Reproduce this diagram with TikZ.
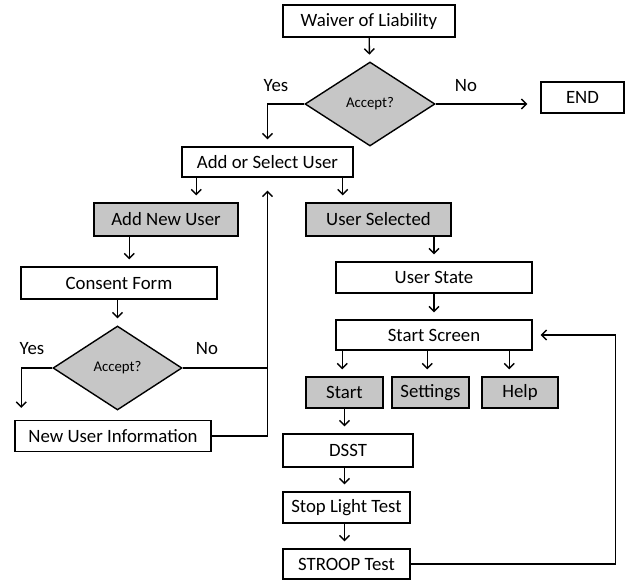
\documentclass[tikz,border=0pt]{standalone}
\usepackage{fontspec}
\setmainfont{Carlito}
\usetikzlibrary{shapes.geometric, arrows.meta}

\tikzset{
  box/.style={draw, line width=1.4pt, inner sep=0pt, font=\fontsize{18.8}{20}\selectfont},
  graybox/.style={box, fill=gray!45},
  decision/.style={diamond, draw, line width=1.4pt, fill=gray!45, inner sep=0pt,
    minimum width=130pt, minimum height=84pt, font=\fontsize{14.8}{16}\selectfont},
  lbl/.style={font=\fontsize{18.8}{20}\selectfont},
  line/.style={line width=1.4pt},
  arr/.style={line, -{Straight Barb[length=5pt, width=10pt, line width=1.4pt]}, shorten >=7pt},
}

\begin{document}
\begin{tikzpicture}[x=1pt, y=-1pt]
    \useasboundingbox (0,0) rectangle (625,581);

    % 1. top: waiver and first decision
    \node[box, minimum width=172pt, minimum height=32pt] (waiver) at (369,21) {Waiver of Liability};
    \node[decision] (acc1) at (370,104) {Accept?};
    \node[box, minimum width=83pt, minimum height=31pt] (endbox) at (582.5,97.5) {END};
    \node[lbl] (yes1) at (276,86) {Yes};
    \node[lbl] (no1) at (466,86) {No};

    % 2. add or select user
    \node[box, minimum width=171pt, minimum height=30pt] (addsel) at (267.5,162) {Add or Select User};
    \node[graybox, minimum width=144pt, minimum height=33pt] (addnew) at (166,219.5) {Add New User};
    \node[graybox, minimum width=145pt, minimum height=33pt] (usersel) at (378.5,219.5) {User Selected};

    % 3. left branch: new user
    \node[box, minimum width=196pt, minimum height=32pt] (consent) at (119,283) {Consent Form};
    \node[decision, minimum width=129pt] (acc2) at (117.5,368) {Accept?};
    \node[box, minimum width=196pt, minimum height=31pt] (newinfo) at (113,436) {New User Information};
    \node[lbl] (yes2) at (32,349) {Yes};
    \node[lbl] (no2) at (207,349) {No};

    % 4. right branch: start screen and tests
    \node[box, minimum width=196pt, minimum height=31pt] (userstate) at (434,277.5) {User State};
    \node[box, minimum width=196pt, minimum height=30pt] (startscr) at (434,335) {Start Screen};
    \node[graybox, minimum width=77pt, minimum height=31pt] (start) at (344.5,392.5) {Start};
    \node[graybox, minimum width=77pt, minimum height=31pt] (settings) at (430.5,392.5) {Settings};
    \node[graybox, minimum width=76pt, minimum height=31pt] (help) at (520,392.5) {Help};
    \node[box, minimum width=130pt, minimum height=33pt] (dsst) at (348,450.5) {DSST};
    \node[box, minimum width=127pt, minimum height=31pt] (stoplight) at (346.5,507.5) {Stop Light Test};
    \node[box, minimum width=127pt, minimum height=30pt] (stroop) at (346.5,564) {STROOP Test};

    % 5. connectors
    \draw[arr] (waiver) -- (acc1);
    \draw[arr, shorten >=13pt] (acc1.east) -- (acc1.east -| endbox.west);
    \draw[arr] (acc1.west) -| (addsel.north);
    \draw[arr] ([xshift=15pt]addsel.south west) -- ([xshift=15pt]addsel.south west |- addnew.north);
    \draw[arr] ([xshift=-11pt]addsel.south east) -- ([xshift=-11pt]addsel.south east |- usersel.north);
    \draw[arr] ([xshift=36pt]addnew.south west) -- ([xshift=36pt]addnew.south west |- consent.north);
    \draw[arr] (acc2.north |- consent.south) -- (acc2.north);
    \draw[arr, shorten >=12pt] (acc2.west) -| ([xshift=7pt]newinfo.north west);
    \draw[line] (acc2.east) -- (acc2.east -| addsel.south);
    \draw[arr, shorten >=13pt] (newinfo.east) -| (addsel.south);
    \draw[arr] (userstate.north |- usersel.south) -- (userstate.north);
    \draw[arr] (userstate) -- (startscr);
    \foreach \dx/\n in {7/start, 92/settings, 174/help}
        \draw[arr] ([xshift=\dx pt]startscr.south west) -- ([xshift=\dx pt]startscr.south west |- \n.north);
    \draw[arr] (start) -- (start |- dsst.north);
    \draw[arr] (start |- dsst.south) -- (start |- stoplight.north);
    \draw[arr] (start |- stoplight.south) -- (start |- stroop.north);
    % 6. loop back to the start screen
    \draw[arr, shorten >=8pt] (stroop.east) -- ++(205,0) |- (startscr.east);
\end{tikzpicture}
\end{document}
